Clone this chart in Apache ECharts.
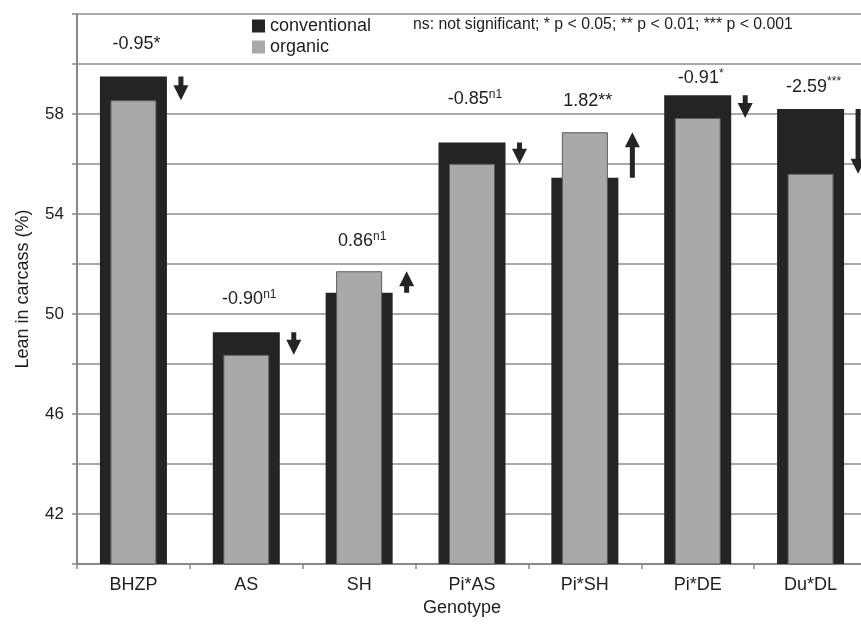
<!DOCTYPE html>
<html><head><meta charset="utf-8">
<script src="https://cdn.jsdelivr.net/npm/echarts@6/dist/echarts.min.js"></script>
<style>html,body{margin:0;padding:0;background:#fff;overflow:hidden}#c{width:872px;height:625px}</style>
</head><body><div id="c"></div>
<script>
const categories = ['BHZP', 'AS', 'SH', 'Pi*AS', 'Pi*SH', 'Pi*DE', 'Du*DL'];
const conventional = [59.5, 49.27, 50.85, 56.86, 55.45, 58.75, 58.2];
const organic = [58.55, 48.37, 51.71, 56.01, 57.27, 57.84, 55.61];
const diffText = ['-0.95', '-0.90', '0.86', '-0.85', '1.82', '-0.91', '-2.59'];
const sigText = ['*', 'n1', 'n1', 'n1', '**', '*', '***'];
const sigSup = [false, true, true, true, false, true, true];
const yTickLabels = [42, 46, 50, 54, 58];

// label distance above the taller bar (px) - layout only
const labelGap = [33, 34, 31, 44, 32, 18, 23];
const FONT = 'Liberation Sans, Arial, Helvetica, sans-serif';
const BLACK = '#242424', GRAY = '#a9a9ab', GRID = '#8c8c8c', TXT = '#1e1e1e';

const chart = echarts.init(document.getElementById('c'));
const arrowData = categories.map((c, i) => [i, conventional[i], organic[i]]);
const labelData = categories.map((c, i) => [i, Math.max(conventional[i], organic[i])]);

chart.setOption({
  animation: false,
  backgroundColor: '#fff',
  textStyle: { fontFamily: FONT },
  grid: { left: 77, top: 14, width: 790, height: 550, containLabel: false },
  legend: {
    orient: 'vertical', left: 247, top: 12, itemWidth: 13, itemHeight: 13, itemGap: 3,
    icon: 'rect',
    data: [{ name: 'conventional', itemStyle: { color: BLACK, borderWidth: 0 } },
           { name: 'organic', itemStyle: { color: GRAY, borderWidth: 0 } }],
    textStyle: { fontSize: 18, color: TXT, fontFamily: FONT, lineHeight: 18 }
  },
  graphic: [{
    type: 'text', left: 413, top: 17,
    style: { text: 'ns: not significant; * p < 0.05; ** p < 0.01; *** p < 0.001',
      font: '15.8px ' + FONT, fill: TXT }
  }],
  xAxis: [{
    type: 'category', data: categories, gridIndex: 0,
    axisLine: { lineStyle: { color: '#888', width: 2 } },
    axisTick: { show: true, interval: 0, length: 5, lineStyle: { color: '#888', width: 1.5 } },
    axisLabel: { fontSize: 18, color: TXT, margin: 12, fontFamily: FONT },
    name: 'Genotype', nameLocation: 'middle', nameGap: 35,
    nameTextStyle: { fontSize: 18, color: TXT, fontFamily: FONT, padding: [0, 20, 0, 0] }
  }, {
    type: 'category', data: categories, gridIndex: 0, show: false
  }],
  yAxis: {
    type: 'value', min: 40, max: 62, interval: 2,
    axisLine: { show: true, lineStyle: { color: '#888', width: 2 } },
    axisTick: { show: true, length: 5, lineStyle: { color: '#888', width: 1.5 } },
    splitLine: { show: true, lineStyle: { color: GRID, width: 1.5 } },
    axisLabel: { fontSize: 17, color: TXT, margin: 13, fontFamily: FONT,
      formatter: v => yTickLabels.indexOf(v) >= 0 ? String(v) : '' },
    name: 'Lean in carcass (%)', nameLocation: 'middle', nameGap: 45,
    nameTextStyle: { fontSize: 18, color: TXT, fontFamily: FONT }
  },
  series: [{
    name: 'conventional', type: 'bar', xAxisIndex: 0, data: conventional,
    barWidth: 67, itemStyle: { color: BLACK }
  }, {
    name: 'organic', type: 'bar', xAxisIndex: 1, data: organic,
    barWidth: 46, itemStyle: { color: GRAY, borderColor: '#5a5a5a', borderWidth: 1 }
  }, {
    type: 'custom', xAxisIndex: 0, data: arrowData, z: 5,
    renderItem: function (params, api) {
      const i = api.value(0);
      const p1 = api.coord([i, api.value(1)]);
      const p2 = api.coord([i, api.value(2)]);
      const x = p1[0] + 47.5;
      const dir = p2[1] > p1[1] ? 1 : -1;
      const head = 15, hw = 7.5, sw = 2.5;
      const yb = p2[1] - dir * head;
      return {
        type: 'polygon',
        shape: { points: [[x - sw, p1[1]], [x + sw, p1[1]], [x + sw, yb], [x + hw, yb], [x, p2[1]], [x - hw, yb], [x - sw, yb]] },
        style: { fill: BLACK }
      };
    }
  }, {
    type: 'custom', xAxisIndex: 0, data: labelData, z: 6,
    renderItem: function (params, api) {
      const i = api.value(0);
      const p = api.coord([i, api.value(1)]);
      const s = sigSup[i] ? 'sup' : 'nrm';
      return {
        type: 'text', x: p[0] + 3, y: p[1] - labelGap[i],
        style: {
          text: '{a|' + diffText[i] + '}{' + s + '|' + sigText[i] + '}',
          align: 'center', verticalAlign: 'middle',
          rich: {
            a: { fontSize: 18, fontFamily: FONT, fill: TXT, color: TXT, lineHeight: 20, verticalAlign: 'bottom' },
            nrm: { fontSize: 18, fontFamily: FONT, fill: TXT, color: TXT, lineHeight: 20, verticalAlign: 'bottom' },
            sup: { fontSize: 12, fontFamily: FONT, fill: TXT, color: TXT, lineHeight: 12, verticalAlign: 'top' }
          }
        }
      };
    }
  }]
});
</script>
</body></html>
